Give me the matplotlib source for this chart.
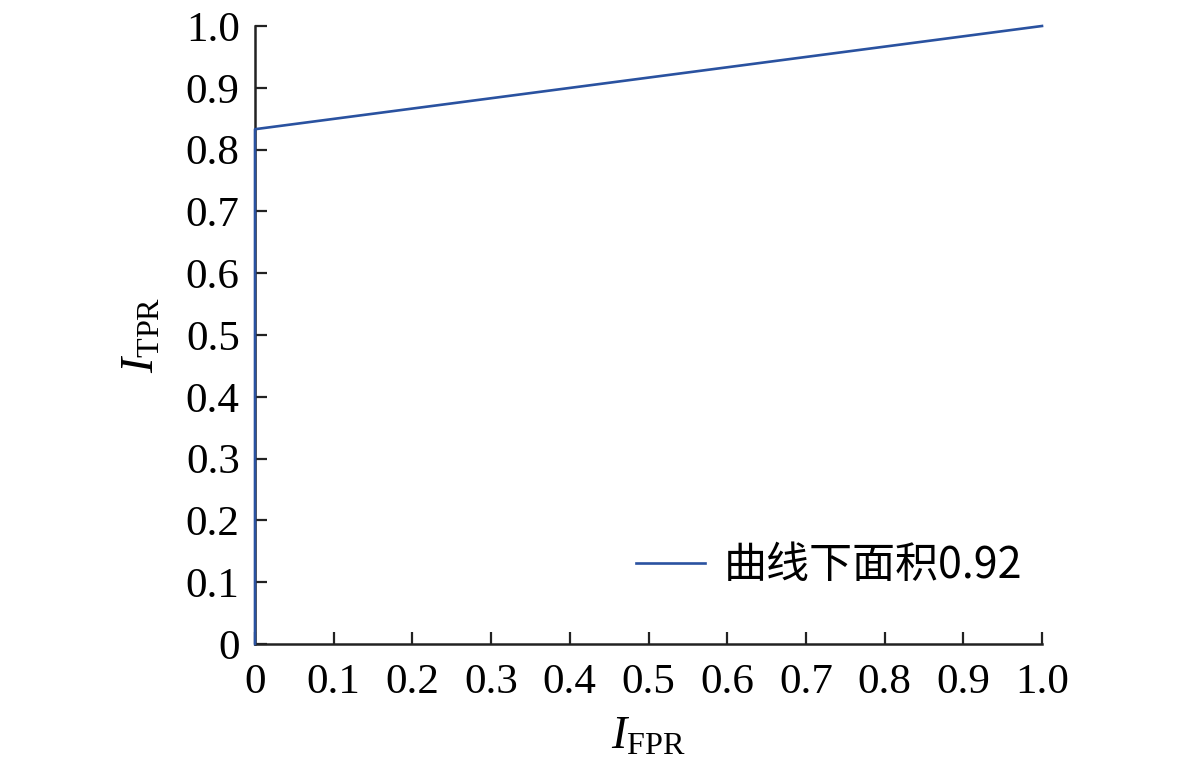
import matplotlib
matplotlib.use("Agg")
import matplotlib.pyplot as plt

fpr = [0.0, 0.0, 1.0]
tpr = [0.0, 0.833, 1.0]
ticks = [0, 0.1, 0.2, 0.3, 0.4, 0.5, 0.6, 0.7, 0.8, 0.9, 1.0]
tick_labels = ["0", "0.1", "0.2", "0.3", "0.4", "0.5", "0.6", "0.7", "0.8", "0.9", "1.0"]
legend_label = "曲线下面积0.92"

plt.rcParams['font.family'] = ['Liberation Serif', 'Noto Sans CJK SC']
plt.rcParams['mathtext.fontset'] = 'custom'
plt.rcParams['mathtext.rm'] = 'Liberation Serif'
plt.rcParams['mathtext.it'] = 'Liberation Serif:italic'

fig = plt.figure(figsize=(11.81, 7.76), dpi=100)
ax = fig.add_axes([255/1181, 1-644/776, (1042-255)/1181, (644-26)/776])

color = '#2a52a0'
ax.plot(fpr, tpr, color=color, lw=1.9, label=legend_label, clip_on=False, zorder=3)

ax.set_xlim(0, 1)
ax.set_ylim(0, 1)
ax.set_xticks(ticks)
ax.set_xticklabels(tick_labels)
ax.set_yticks(ticks)
ax.set_yticklabels(tick_labels)
for s in ['top', 'right']:
    ax.spines[s].set_visible(False)
for s in ['left', 'bottom']:
    ax.spines[s].set_linewidth(1.8)
    ax.spines[s].set_color('#222222')
ax.tick_params(direction='in', length=8.5, width=1.6, labelsize=31, color='#222222')
ax.tick_params(axis='x', pad=14)
ax.tick_params(axis='y', pad=11)

ax.set_xlabel(r'$I_{\mathrm{FPR}}$', fontsize=33, labelpad=10)
ax.set_ylabel(r'$I_{\mathrm{TPR}}$', fontsize=33, labelpad=16)

leg = fig.legend(loc='center left', bbox_to_anchor=(636/1181, 1-566/776),
                 frameon=False, borderpad=0, borderaxespad=0,
                 handlelength=1.6, handletextpad=0.45,
                 prop={'family': ['Noto Sans CJK SC'], 'size': 31})

fig.savefig('out.png', dpi=100)
